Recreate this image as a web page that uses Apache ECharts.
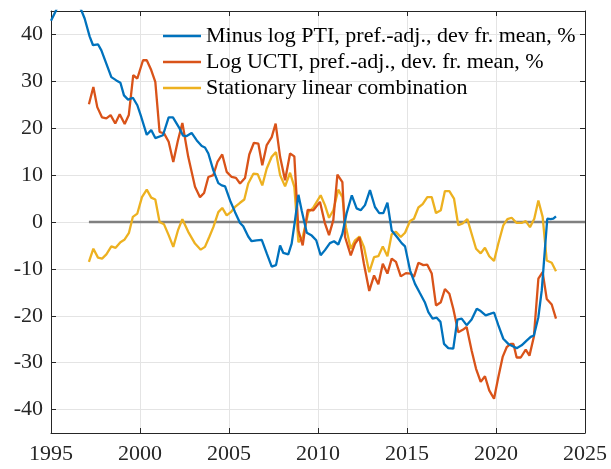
<!DOCTYPE html>
<html>
<head>
<meta charset="utf-8">
<script src="https://cdn.jsdelivr.net/npm/echarts@6/dist/echarts.min.js"></script>
<style>
  html, body { margin: 0; padding: 0; background: #fff; }
  #chart { width: 611px; height: 469px; }
</style>
</head>
<body>
<div id="chart"></div>
<script>
"use strict";

// series names as in the legend
var seriesNames = [
	'Minus log PTI, pref.-adj., dev fr. mean, %',
	'Log UCTI, pref.-adj., dev. fr. mean, %',
	'Stationary linear combination'
];

// [year, value]
var ptiData = [
	[1995.0, 42.9], [1995.24, 44.8], [1995.5, 47.0], [1996.0, 48.5], [1996.5, 47.0], [1996.7, 45.2],
	[1996.89, 43.4], [1997.17, 39.6], [1997.36, 37.7], [1997.64, 37.9], [1997.83, 36.6],
	[1998.39, 30.9], [1998.67, 30.2], [1998.9, 29.7], [1999.1, 27.0], [1999.33, 26.1],
	[1999.6, 26.5], [1999.85, 24.9], [2000.07, 22.4], [2000.38, 18.6], [2000.63, 19.6],
	[2000.86, 17.9], [2001.29, 18.5], [2001.61, 22.3], [2001.85, 22.3], [2002.23, 19.9],
	[2002.42, 18.4], [2002.6, 18.3], [2002.9, 19.0], [2003.19, 17.4], [2003.47, 16.2],
	[2003.65, 15.9], [2003.84, 14.6], [2004.12, 11.0], [2004.4, 8.3], [2004.59, 7.8],
	[2004.78, 7.6], [2005.06, 4.6], [2005.34, 2.1], [2005.62, -0.2], [2005.8, -0.9],
	[2006.08, -3.1], [2006.27, -4.1], [2006.55, -3.9], [2006.84, -3.8], [2007.12, -6.7],
	[2007.4, -9.5], [2007.64, -9.2], [2007.87, -5.0], [2008.05, -6.6], [2008.33, -6.9],
	[2008.52, -4.6], [2008.71, 0.4], [2008.9, 5.8], [2009.08, 2.5], [2009.37, -2.3],
	[2009.65, -2.9], [2009.9, -3.9], [2010.15, -7.1], [2010.39, -6.0], [2010.67, -4.5],
	[2010.9, -4.1], [2011.14, -4.8], [2011.37, -2.5], [2011.61, 1.9], [2011.9, 5.7],
	[2012.17, 2.9], [2012.4, 2.5], [2012.64, 3.6], [2012.92, 6.8], [2013.2, 3.2],
	[2013.44, 1.9], [2013.67, 1.9], [2013.9, 4.1], [2014.14, -1.8], [2014.46, -3.3],
	[2014.7, -4.5], [2014.89, -5.2], [2015.17, -10.3], [2015.45, -13.2], [2015.73, -15.2],
	[2016.0, -17.1], [2016.2, -19.2], [2016.44, -20.6], [2016.67, -20.4], [2016.88, -21.3],
	[2017.08, -26.0], [2017.32, -26.9], [2017.6, -27.0], [2017.83, -20.8], [2018.07, -20.6],
	[2018.35, -22.0], [2018.63, -20.8], [2018.92, -18.5], [2019.14, -19.0], [2019.42, -19.9],
	[2019.66, -19.6], [2019.89, -19.3], [2020.13, -22.0], [2020.41, -24.9], [2020.69, -26.0],
	[2020.94, -26.5], [2021.16, -26.9], [2021.44, -26.3], [2021.72, -25.3], [2021.95, -24.5],
	[2022.13, -24.2], [2022.38, -20.3], [2022.57, -14.6], [2022.7, -8.2], [2022.88, 0.7],
	[2023.07, 0.6], [2023.22, 0.7], [2023.37, 1.2]
];

var uctiData = [
	[1997.13, 25.1], [1997.38, 28.8], [1997.6, 24.5], [1997.87, 22.3], [1998.11, 22.1],
	[1998.35, 22.8], [1998.61, 21.0], [1998.86, 23.0], [1999.14, 20.9], [1999.37, 22.8],
	[1999.62, 31.3], [1999.85, 30.6], [2000.17, 34.5], [2000.38, 34.5], [2000.63, 32.4],
	[2000.86, 29.9], [2001.1, 19.2], [2001.35, 18.9], [2001.61, 17.1], [2001.87, 12.8],
	[2002.13, 17.4], [2002.38, 21.1], [2002.71, 13.9], [2003.09, 7.5], [2003.37, 5.3],
	[2003.6, 6.2], [2003.84, 9.6], [2004.12, 10.0], [2004.35, 12.8], [2004.62, 14.4],
	[2004.87, 10.7], [2005.15, 9.6], [2005.39, 9.4], [2005.62, 8.2], [2005.9, 9.4],
	[2006.14, 14.4], [2006.4, 16.9], [2006.65, 16.7], [2006.87, 12.1], [2007.12, 16.4],
	[2007.4, 18.1], [2007.62, 21.0], [2007.87, 13.9], [2008.15, 8.9], [2008.43, 14.6],
	[2008.67, 14.0], [2008.9, -1.8], [2009.14, -5.0], [2009.42, 2.6], [2009.74, 2.5],
	[2010.11, 4.3], [2010.39, -0.3], [2010.62, -2.8], [2010.86, 0.4], [2011.09, 10.1],
	[2011.37, 8.5], [2011.52, -3.2], [2011.84, -7.1], [2012.08, -4.6], [2012.33, -3.3],
	[2012.58, -8.9], [2012.88, -14.7], [2013.15, -11.4], [2013.39, -13.3], [2013.64, -8.9],
	[2013.9, -11.0], [2014.14, -7.8], [2014.38, -8.5], [2014.65, -11.6], [2014.94, -10.9],
	[2015.21, -11.0], [2015.39, -11.7], [2015.64, -8.7], [2015.92, -9.2], [2016.14, -9.1],
	[2016.39, -11.0], [2016.63, -17.8], [2016.9, -17.1], [2017.13, -14.3], [2017.38, -15.3],
	[2017.6, -18.5], [2017.88, -23.5], [2018.13, -23.0], [2018.35, -22.4], [2018.63, -27.4],
	[2018.88, -31.3], [2019.14, -34.1], [2019.38, -32.9], [2019.62, -35.9], [2019.89, -37.7],
	[2020.13, -33.1], [2020.38, -28.7], [2020.6, -26.7], [2020.83, -26.0], [2020.98, -26.0],
	[2021.16, -28.9], [2021.39, -28.9], [2021.67, -27.2], [2021.88, -28.5], [2022.13, -24.4],
	[2022.38, -12.1], [2022.62, -10.7], [2022.85, -16.4], [2023.13, -17.6], [2023.37, -20.6]
];

var comboData = [
	[1997.13, -8.5], [1997.38, -5.7], [1997.64, -7.6], [1997.87, -7.8], [1998.11, -6.9],
	[1998.39, -5.2], [1998.63, -5.5], [1998.9, -4.3], [1999.12, -3.8], [1999.38, -2.3],
	[1999.6, 1.1], [1999.85, 1.8], [2000.11, 5.3], [2000.38, 6.9], [2000.63, 5.2],
	[2000.86, 4.8], [2001.1, 0.0], [2001.35, -0.5], [2001.61, -2.8], [2001.87, -5.3],
	[2002.13, -1.8], [2002.38, 0.6], [2002.71, -2.1], [2003.09, -4.6], [2003.41, -5.9],
	[2003.65, -5.3], [2003.89, -3.2], [2004.12, -1.1], [2004.4, 2.1], [2004.62, 3.0],
	[2004.87, 1.4], [2005.1, 2.1], [2005.34, 3.2], [2005.62, 4.1], [2005.86, 4.8],
	[2006.08, 8.2], [2006.37, 10.3], [2006.61, 10.2], [2006.87, 7.8], [2007.12, 11.4],
	[2007.4, 13.9], [2007.64, 14.9], [2007.87, 10.0], [2008.15, 7.6], [2008.43, 10.5],
	[2008.67, 7.5], [2008.9, -4.3], [2009.14, -3.2], [2009.46, 2.1], [2009.74, 3.1],
	[2010.15, 5.7], [2010.39, 3.6], [2010.62, 0.9], [2010.86, 2.5], [2011.14, 6.9],
	[2011.37, 5.3], [2011.57, -1.1], [2011.84, -5.7], [2012.08, -3.9], [2012.33, -3.1],
	[2012.58, -5.3], [2012.88, -10.7], [2013.15, -7.5], [2013.39, -7.3], [2013.64, -5.2],
	[2013.9, -7.3], [2014.14, -2.6], [2014.38, -2.1], [2014.65, -3.2], [2014.89, -2.3],
	[2015.17, 0.2], [2015.39, 0.7], [2015.64, 3.1], [2015.88, 3.8], [2016.14, 5.3],
	[2016.39, 5.3], [2016.63, 1.9], [2016.9, 2.5], [2017.13, 6.6], [2017.38, 6.6],
	[2017.64, 5.0], [2017.88, -0.7], [2018.13, -0.3], [2018.39, 0.6], [2018.63, -2.5],
	[2018.88, -5.7], [2019.14, -6.7], [2019.38, -5.5], [2019.62, -7.3], [2019.89, -8.3],
	[2020.13, -4.6], [2020.41, -0.7], [2020.64, 0.6], [2020.88, 0.9], [2021.16, -0.2],
	[2021.44, -0.2], [2021.67, 0.2], [2021.91, -1.1], [2022.15, 0.7], [2022.38, 4.6],
	[2022.62, 1.1], [2022.85, -8.2], [2023.13, -8.7], [2023.37, -10.5]
];

// zero reference line
var zeroLine = [[1997.13, 0], [2025, 0]];

var xRange = [1995, 2025];
var yRange = [-45, 45];

var colors = ['#0072BD', '#D95319', '#EDB120'];
var axisColor = '#262626';
var font = '"Liberation Serif", "Times New Roman", serif';

var myChart = echarts.init(document.getElementById('chart'));

var boxAxisLine = { show: true, onZero: false, lineStyle: { color: axisColor, width: 1 } };
var insideTick = { show: true, inside: true, length: 5, lineStyle: { color: axisColor } };

var option = {
	animation: false,
	backgroundColor: '#fff',
	grid: { left: 51, right: 26, top: 11, bottom: 36 },
	legend: {
		orient: 'vertical',
		left: 163,
		top: 23,
		padding: 0,
		itemGap: 0,
		itemWidth: 38,
		itemHeight: 2.5,
		icon: 'rect',
		data: seriesNames,
		textStyle: { fontFamily: font, fontSize: 22, color: '#000', lineHeight: 26 }
	},
	xAxis: [{
		type: 'value',
		min: xRange[0],
		max: xRange[1],
		splitNumber: 6,
		axisLine: boxAxisLine,
		axisTick: insideTick,
		axisLabel: {
			fontFamily: font, fontSize: 22, color: axisColor, margin: 10,
			formatter: function (v) { return String(v); }
		},
		splitLine: { show: true, lineStyle: { color: '#e4e4e4', width: 1 } }
	}, {
		type: 'value',
		position: 'top',
		min: xRange[0],
		max: xRange[1],
		splitNumber: 6,
		axisLine: boxAxisLine,
		axisTick: insideTick,
		axisLabel: { show: false },
		splitLine: { show: false }
	}],
	yAxis: [{
		type: 'value',
		min: yRange[0],
		max: yRange[1],
		splitNumber: 9,
		axisLine: boxAxisLine,
		axisTick: insideTick,
		axisLabel: {
			fontFamily: font, fontSize: 22, color: axisColor, margin: 8,
			formatter: function (v) { return v % 10 === 0 ? String(v) : ''; }
		},
		splitLine: { show: true, lineStyle: { color: '#e4e4e4', width: 1 } }
	}, {
		type: 'value',
		position: 'right',
		min: yRange[0],
		max: yRange[1],
		splitNumber: 9,
		axisLine: boxAxisLine,
		axisTick: insideTick,
		axisLabel: { show: false },
		splitLine: { show: false }
	}],
	series: [{
		name: 'zero',
		type: 'line',
		data: zeroLine,
		symbol: 'none',
		silent: true,
		lineStyle: { color: '#808080', width: 2.5 },
		z: 1
	}, {
		name: seriesNames[0],
		type: 'line',
		data: ptiData,
		symbol: 'none',
		clip: true,
		color: colors[0],
		lineStyle: { color: colors[0], width: 2.3 },
		z: 4
	}, {
		name: seriesNames[1],
		type: 'line',
		data: uctiData,
		symbol: 'none',
		clip: true,
		color: colors[1],
		lineStyle: { color: colors[1], width: 2.3 },
		z: 3
	}, {
		name: seriesNames[2],
		type: 'line',
		data: comboData,
		symbol: 'none',
		clip: true,
		color: colors[2],
		lineStyle: { color: colors[2], width: 2.3 },
		z: 2
	}]
};

myChart.setOption(option);
</script>
</body>
</html>
